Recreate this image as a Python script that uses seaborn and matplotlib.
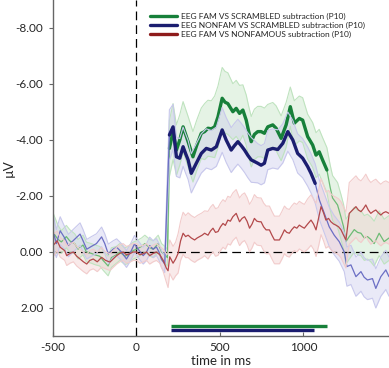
import numpy as np
import pandas as pd
import matplotlib
matplotlib.use("Agg")
import matplotlib.pyplot as plt
import seaborn as sns

# ---- data (ms, microvolts) ----
green_t = [-500, -470, -450, -420, -400, -370, -350, -320, -300, -270,
           -250, -220, -200, -170, -150, -120, -100, -70, -50, -20,
           0, 30, 50, 80, 100, 130, 150, 170, 185,
           197, 219, 239, 259, 279, 309, 338, 360, 388, 408,
           428, 448, 468, 488, 513, 530, 547, 577, 597, 617,
           637, 657, 672, 687, 706, 726, 746, 766, 786, 816,
           836, 866, 896, 921, 945, 975, 995, 1025, 1055, 1075,
           1094, 1114, 1140, 1160, 1174, 1204, 1224, 1240, 1254, 1274,
           1304, 1324, 1344, 1364, 1383, 1403, 1423, 1453, 1483, 1512]
green_v = [-0.7, -0.45, -0.36, -0.55, -0.4, -0.3, -0.1, -0.25, 0.0, 0.05,
           0.1, 0.15, 0.3, 0.5, 0.2, 0.1, 0.0, 0.15, 0.1, -0.05,
           -0.1, -0.2, -0.3, -0.15, -0.1, -0.3, 0.0, 0.1, 0.2,
           -3.7, -4.3, -3.64, -4.0, -4.47, -3.94, -3.4, -3.8, -4.24, -4.3,
           -4.42, -4.4, -4.47, -4.83, -5.49, -5.35, -5.3, -5.01, -5.13, -4.95,
           -5.07, -4.71, -4.3, -3.94, -4.2, -4.3, -4.3, -4.24, -4.47, -4.54,
           -4.42, -4.06, -4.54, -5.19, -4.6, -4.77, -4.71, -4.12, -3.82, -3.46,
           -3.58, -3.29, -2.93, -2.3, -1.93, -1.68, -1.26, -0.9, -0.37, -0.55,
           -0.8, -0.7, -0.67, -0.5, -0.55, -0.45, -0.3, -0.67, -0.37, -0.5]
green_se = [0.7, 0.5, 0.4, 0.4, 0.4, 0.35, 0.35, 0.35, 0.35, 0.35,
            0.35, 0.35, 0.35, 0.35, 0.35, 0.3, 0.3, 0.3, 0.3, 0.3,
            0.3, 0.3, 0.3, 0.3, 0.3, 0.3, 0.3, 0.3, 0.3,
            1.0, 1.0, 0.9, 0.9, 0.9, 0.9, 0.9, 0.9, 0.9, 1.0,
            1.0, 1.0, 1.1, 1.1, 1.1, 1.1, 1.1, 1.0, 1.0, 1.0,
            0.9, 0.9, 0.9, 0.9, 0.9, 0.9, 0.9, 0.9, 0.8, 0.8,
            0.8, 0.8, 0.8, 0.7, 0.8, 0.8, 0.8, 0.8, 0.8, 0.8,
            0.8, 0.8, 0.8, 0.8, 0.8, 0.8, 0.8, 0.8, 0.8, 0.8,
            0.8, 0.8, 0.8, 0.8, 0.8, 0.8, 0.8, 0.8, 0.8, 0.8]

blue_t = [-500, -480, -457, -430, -408, -380, -338, -320, -298, -270,
          -240, -209, -190, -169, -140, -119, -90, -60, -35, -12,
          10, 40, 60, 79, 100, 119, 135, 149, 169,
          197, 219, 239, 259, 279, 295, 309, 328, 358, 388,
          418, 448, 478, 513, 537, 567, 587, 607, 627, 647,
          667, 687, 726, 746, 766, 786, 816, 846, 876, 906,
          936, 965, 995, 1025, 1045, 1070, 1095, 1124, 1154, 1184,
          1214, 1244, 1260, 1284, 1314, 1344, 1363, 1383, 1413, 1433,
          1463, 1493, 1512]
blue_v = [-0.76, -0.3, -0.76, -0.5, -0.23, -0.4, -0.64, -0.4, -0.1, -0.2,
          -0.3, -0.54, -0.3, 0.07, -0.1, -0.17, 0.0, 0.25, 0.0, -0.29,
          -0.1, 0.13, 0.0, -0.23, -0.1, -0.18, 0.0, 0.25, 0.43,
          -4.18, -4.47, -3.4, -3.35, -3.76, -3.5, -3.29, -2.81, -3.17, -3.52,
          -3.7, -3.64, -3.76, -4.36, -4.0, -3.64, -3.8, -3.94, -3.8, -3.64,
          -3.45, -3.29, -3.17, -3.1, -3.17, -3.64, -3.7, -3.66, -3.88, -4.3,
          -4.0, -3.52, -3.35, -3.05, -2.81, -2.45, -1.86, -1.39, -0.9, -0.6,
          -0.37, 0.0, 0.52, 0.46, 0.88, 0.7, 0.9, 1.0, 0.95, 1.3,
          0.88, 0.64, 0.88]
blue_se = [0.6, 0.5, 0.5, 0.4, 0.4, 0.4, 0.4, 0.4, 0.35, 0.35,
           0.35, 0.35, 0.35, 0.35, 0.3, 0.3, 0.3, 0.3, 0.3, 0.3,
           0.3, 0.3, 0.3, 0.3, 0.3, 0.3, 0.3, 0.3, 0.3,
           0.9, 0.8, 0.7, 0.7, 0.7, 0.7, 0.7, 0.7, 0.7, 0.7,
           0.7, 0.7, 0.7, 0.8, 0.8, 0.8, 0.8, 0.8, 0.8, 0.8,
           0.8, 0.8, 0.7, 0.7, 0.7, 0.7, 0.7, 0.7, 0.7, 0.7,
           0.7, 0.7, 0.7, 0.7, 0.7, 0.7, 0.7, 0.7, 0.7, 0.7,
           0.7, 0.7, 0.7, 0.7, 0.7, 0.7, 0.7, 0.7, 0.7, 0.7,
           0.7, 0.7, 0.7]

red_t = [-500, -475, -457, -430, -418, -398, -378, -358, -338, -318,
         -298, -280, -259, -235, -209, -185, -159, -140, -119, -100,
         -80, -60, -40, -20, 0, 20, 40, 60, 79, 100,
         119, 140, 160, 179, 189, 199, 219, 234, 249, 264,
         279, 294, 309, 328, 348, 363, 378, 393, 408, 428,
         443, 458, 473, 488, 503, 518, 532, 547, 562, 577,
         597, 617, 632, 647, 662, 677, 692, 706, 721, 736,
         746, 761, 776, 796, 811, 826, 856, 871, 886, 900,
         915, 930, 945, 960, 975, 990, 1005, 1025, 1045, 1060,
         1075, 1090, 1105, 1120, 1134, 1150, 1164, 1180, 1194, 1210,
         1224, 1240, 1254, 1264, 1274, 1294, 1314, 1329, 1344, 1359,
         1373, 1388, 1403, 1418, 1433, 1448, 1463, 1478, 1493, 1512]
red_v = [-0.23, -0.4, -0.17, -0.05, 0.13, 0.05, 0.0, 0.15, 0.25, 0.35,
         0.43, 0.3, 0.25, 0.35, 0.19, 0.3, 0.36, 0.25, 0.13, 0.05,
         0.0, 0.1, 0.06, 0.0, 0.0, 0.1, 0.06, 0.0, 0.13, 0.05,
         0.0, 0.1, 0.3, 0.58, 0.67, 0.17, 0.4, 0.25, 0.05, -0.4,
         -0.67, -0.55, -0.6, -0.5, -0.43, -0.5, -0.55, -0.6, -0.67, -0.6,
         -0.75, -0.85, -0.7, -0.73, -0.9, -1.02, -0.95, -1.14, -1.1, -1.26,
         -1.38, -1.08, -1.2, -1.26, -1.1, -0.85, -1.0, -1.2, -1.1, -1.08,
         -1.08, -0.9, -0.79, -0.79, -0.6, -0.43, -0.43, -0.6, -0.79, -0.7,
         -0.67, -0.8, -0.9, -0.85, -0.96, -0.9, -0.85, -1.0, -1.14, -1.0,
         -0.79, -1.2, -1.62, -1.4, -1.14, -1.2, -1.08, -1.0, -0.96, -0.9,
         -0.8, -0.6, -0.43, -0.9, -1.38, -1.5, -1.62, -1.5, -1.44, -1.55,
         -1.68, -1.5, -1.38, -1.45, -1.5, -1.4, -1.32, -1.4, -1.44, -1.38]
red_se = [0.4, 0.35, 0.35, 0.35, 0.35, 0.35, 0.35, 0.35, 0.35, 0.35,
          0.35, 0.35, 0.35, 0.35, 0.35, 0.3, 0.3, 0.3, 0.3, 0.3,
          0.3, 0.3, 0.3, 0.3, 0.3, 0.3, 0.3, 0.3, 0.3, 0.3,
          0.3, 0.3, 0.4, 0.5, 0.6, 0.6, 0.6, 0.6, 0.7, 0.7,
          0.75, 0.75, 0.8, 0.8, 0.8, 0.8, 0.8, 0.8, 0.8, 0.85,
          0.85, 0.85, 0.85, 0.85, 0.85, 0.85, 0.85, 0.85, 0.85, 0.85,
          0.85, 0.85, 0.85, 0.85, 0.85, 0.85, 0.85, 0.85, 0.85, 0.85,
          0.85, 0.85, 0.85, 0.85, 0.85, 0.85, 0.85, 0.85, 0.85, 0.85,
          0.85, 0.85, 0.85, 0.85, 0.85, 0.85, 0.85, 0.9, 0.9, 0.9,
          0.95, 1.0, 1.0, 1.0, 1.0, 1.0, 1.0, 1.0, 1.0, 1.0,
          1.0, 1.0, 1.0, 1.0, 1.1, 1.1, 1.1, 1.1, 1.1, 1.1,
          1.1, 1.1, 1.1, 1.1, 1.1, 1.1, 1.1, 1.1, 1.1, 1.1]

labels = ["EEG FAM VS SCRAMBLED subtraction (P10)",
          "EEG NONFAM VS SCRAMBLED subtraction (P10)",
          "EEG FAM VS NONFAMOUS subtraction (P10)"]

# significant windows (thick line) and bars under the axis
green_sig = [197, 1140]
blue_sig = [197, 1070]
green_bar = [208, 1143]
blue_bar = [208, 1065]

# ---- style ----
sns.set_style("ticks")
plt.rcParams['font.family'] = ['Lato', 'DejaVu Sans']
plt.rcParams['axes.unicode_minus'] = False

fig = plt.figure(figsize=(3.89, 3.68), dpi=100)
ax = fig.add_axes([53 / 389, 32 / 368, 336 / 389, 336 / 368])

series = [
    (green_t, green_v, green_se, green_sig, "#17803a", "#6dbb75", "#bfe3bf"),
    (blue_t, blue_v, blue_se, blue_sig, "#1b1d70", "#6b6ec4", "#c8c8ec"),
    (red_t, red_v, red_se, None, "#b3494b", "#b3494b", "#f2cccc"),
]

for t, v, se, sig, dark, light, band in series:
    df = pd.DataFrame({"t": t, "v": v, "se": se})
    lo = df["v"] - df["se"]
    hi = df["v"] + df["se"]
    ax.fill_between(df["t"], lo, hi, color=band, alpha=0.4, lw=0)
    ax.plot(df["t"], lo, color=band, lw=0.8)
    ax.plot(df["t"], hi, color=band, lw=0.8)
    if sig is None:
        sns.lineplot(data=df, x="t", y="v", ax=ax, color=dark, lw=0.9,
                     errorbar=None)
        continue
    pre = df[df["t"] <= sig[0]]
    mid = df[(df["t"] >= sig[0]) & (df["t"] <= sig[1])]
    post = df[df["t"] >= sig[1]]
    for part in (pre, post):
        sns.lineplot(data=part, x="t", y="v", ax=ax, color=light, lw=0.9,
                     errorbar=None)
    sns.lineplot(data=mid, x="t", y="v", ax=ax, color=dark, lw=2.4,
                 errorbar=None)

ax.axhline(0, color="black", lw=0.9, ls=(0, (7, 4)), zorder=1)
ax.axvline(0, color="black", lw=0.9, ls=(0, (7, 4)), zorder=1)

# significance bars
ax.hlines(2.64, green_bar[0], green_bar[1], color="#17803a", lw=2.4)
ax.hlines(2.80, blue_bar[0], blue_bar[1], color="#1b1d70", lw=2.4)

# legend
handles = [plt.Line2D([], [], color=c, lw=2.4)
           for c in ("#17803a", "#1b1d70", "#8e1b1b")]
ax.legend(handles, labels, loc="upper left", bbox_to_anchor=(0.278, 0.972),
          frameon=False, fontsize=6.0, handlelength=3.3, handletextpad=0.4,
          labelspacing=0.22, borderaxespad=0)

ax.set_xlim(-500, 1512)
ax.set_ylim(3, -9)
ax.set_xticks([-500, 0, 500, 1000])
ax.set_yticks([-8, -6, -4, -2, 0, 2])
ax.set_yticklabels(["%.2f" % y for y in [-8, -6, -4, -2, 0, 2]])
ax.tick_params(axis="x", direction="in", length=3, labelsize=8.5,
               color="#666666", pad=4)
ax.tick_params(axis="y", direction="out", length=3, labelsize=8.5,
               color="#666666", pad=4)
ax.set_xlabel("time in ms", fontsize=9.5, labelpad=2)
ax.set_ylabel("µV", fontsize=9.5)
ax.yaxis.set_label_coords(-0.115, 0.5)
sns.despine(ax=ax)
for s in ("left", "bottom"):
    ax.spines[s].set_color("#666666")
    ax.spines[s].set_linewidth(1.0)

fig.savefig("out.png", dpi=100)
